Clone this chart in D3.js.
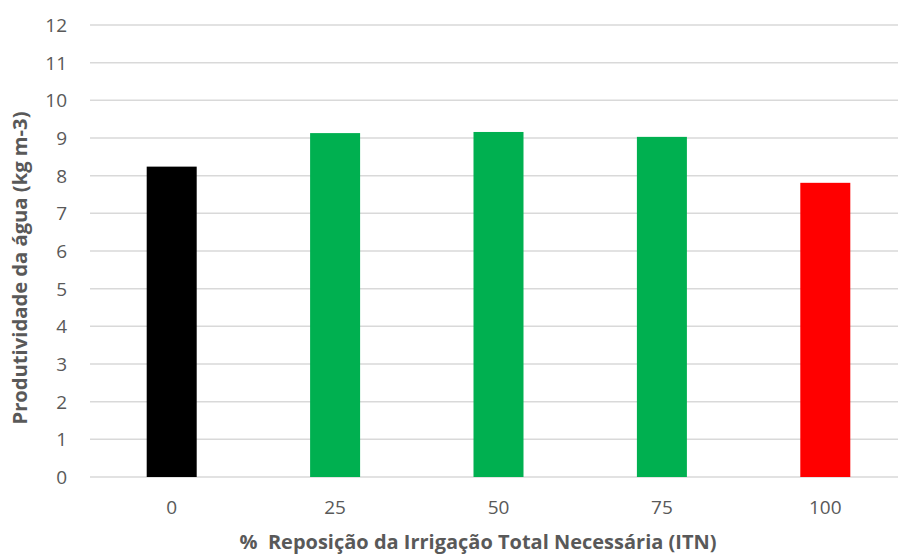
<!DOCTYPE html>
<html>
<head>
<meta charset="utf-8">
<script src="https://cdn.jsdelivr.net/npm/d3@7"></script>
<style>
  body { margin: 0; background: #fff; }
  text { font-family: "Open Sans", "Noto Sans", sans-serif; fill: #595959; white-space: pre; }
</style>
</head>
<body>
<div id="chart"></div>
<script>
// data
var categories = ["0", "25", "50", "75", "100"];
var values = [8.24, 9.13, 9.16, 9.03, 7.81];
var barColors = ["#000000", "#00b050", "#00b050", "#00b050", "#ff0000"];
var yTicks = [0, 1, 2, 3, 4, 5, 6, 7, 8, 9, 10, 11, 12];

var W = 898, H = 555;
var plot = {left: 90, right: 907, top: 25, bottom: 477};

var svg = d3.select("#chart")
    .append("svg")
        .attr("width", W)
        .attr("height", H);

var x = d3.scaleBand()
    .domain(categories)
    .range([plot.left, plot.right])
    .paddingInner(0.694)
    .paddingOuter(0.347);

var y = d3.scaleLinear()
    .domain([0, 12])
    .range([plot.bottom, plot.top]);

// gridlines
svg.append("g")
    .selectAll("line")
    .data(yTicks)
    .enter()
    .append("line")
        .attr("x1", plot.left)
        .attr("x2", plot.right)
        .attr("y1", function(d) { return y(d); })
        .attr("y2", function(d) { return y(d); })
        .attr("stroke", "#d9d9d9")
        .attr("stroke-width", 1.5);

// bars
svg.append("g")
    .selectAll("rect")
    .data(values)
    .enter()
    .append("rect")
        .attr("x", function(d, i) { return x(categories[i]); })
        .attr("y", function(d) { return y(d); })
        .attr("width", x.bandwidth())
        .attr("height", function(d) { return y(0) - y(d); })
        .style("fill", function(d, i) { return barColors[i]; });

// y axis labels
var yAxis = d3.axisLeft(y).tickValues(yTicks).tickSize(0).tickPadding(0);
svg.append("g")
    .attr("transform", "translate(67,0)")
    .call(yAxis)
    .call(function(g) { g.select(".domain").remove(); })
    .selectAll("text")
        .style("font-size", "19px")
        .attr("fill", "#595959")
        .attr("dy", "0.35em");

// x axis labels
var xAxis = d3.axisBottom(x).tickSize(0).tickPadding(0);
svg.append("g")
    .attr("transform", "translate(0," + 500 + ")")
    .call(xAxis)
    .call(function(g) { g.select(".domain").remove(); })
    .selectAll("text")
        .style("font-size", "19px")
        .attr("fill", "#595959")
        .attr("dy", "0.71em");

// axis titles
svg.append("text")
    .attr("x", 478)
    .attr("y", 549)
    .attr("text-anchor", "middle")
    .attr("textLength", 477)
    .attr("lengthAdjust", "spacingAndGlyphs")
    .style("font-size", "19px")
    .style("font-weight", "bold")
    .text("%  Reposição da Irrigação Total Necessária (ITN)");

svg.append("text")
    .attr("transform", "rotate(-90)")
    .attr("x", -268)
    .attr("y", 27)
    .attr("text-anchor", "middle")
    .attr("textLength", 313)
    .attr("lengthAdjust", "spacingAndGlyphs")
    .style("font-size", "19px")
    .style("font-weight", "bold")
    .text("Produtividade da água (kg m-3)");
</script>
</body>
</html>
